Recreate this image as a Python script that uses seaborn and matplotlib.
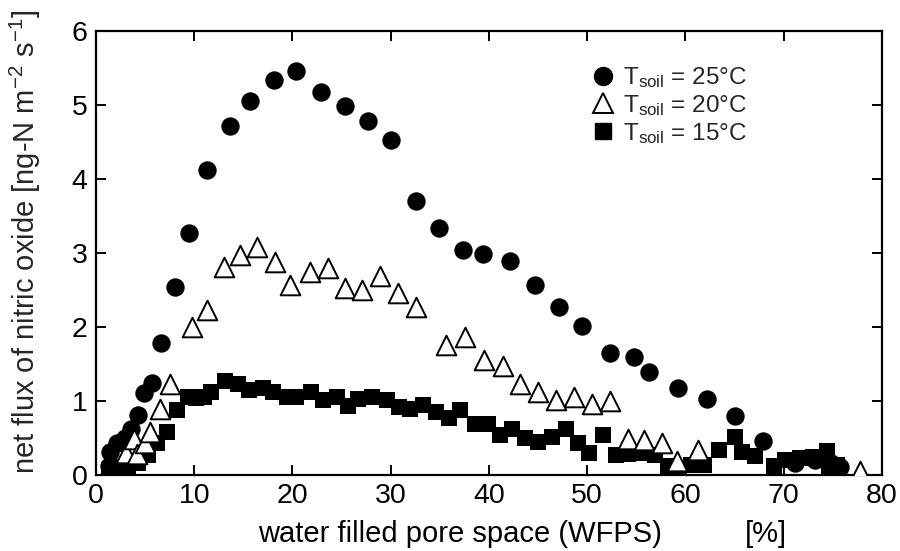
import matplotlib
matplotlib.use("Agg")
import matplotlib.pyplot as plt
import seaborn as sns
import pandas as pd
from matplotlib.lines import Line2D

# ---- data ----
x25 = [1.3, 1.4, 2.1, 2.9, 3.6, 4.3, 4.9, 5.7, 6.6, 8.0, 9.5, 11.3, 13.6, 15.7, 18.1, 20.4,
       22.9, 25.3, 27.7, 30.0, 32.6, 34.9, 37.4, 39.4, 42.2, 44.7, 47.1, 49.5, 52.3, 54.8,
       56.3, 59.3, 62.2, 65.1, 67.9, 71.2, 73.2, 74.8, 75.8]
y25 = [0.12, 0.31, 0.42, 0.50, 0.61, 0.80, 1.10, 1.24, 1.78, 2.54, 3.27, 4.12, 4.72, 5.06, 5.34, 5.46,
       5.18, 4.99, 4.78, 4.53, 3.70, 3.33, 3.04, 2.98, 2.89, 2.57, 2.26, 2.01, 1.65, 1.59,
       1.39, 1.17, 1.02, 0.79, 0.45, 0.16, 0.20, 0.15, 0.10]

x20 = [3.1, 3.9, 4.2, 5.0, 5.5, 6.5, 7.5, 9.8, 11.3, 13.0, 14.7, 16.4, 18.2, 19.8, 21.8, 23.6,
       25.4, 27.1, 28.9, 30.7, 32.6, 35.6, 37.6, 39.5, 41.4, 43.2, 45.0, 46.8, 48.7, 50.5,
       52.3, 54.2, 55.8, 57.6, 59.2, 61.3, 77.8]
y20 = [0.29, 0.48, 0.28, 0.42, 0.58, 0.88, 1.22, 1.99, 2.23, 2.81, 2.97, 3.08, 2.87, 2.56, 2.74, 2.79,
       2.52, 2.49, 2.69, 2.45, 2.27, 1.75, 1.86, 1.55, 1.47, 1.23, 1.11, 1.01, 1.05, 0.95,
       0.99, 0.48, 0.47, 0.42, 0.18, 0.33, 0.05]

x15 = [1.3, 1.9, 2.6, 3.3, 4.3, 5.3, 6.2, 7.2, 8.2, 9.4, 10.2, 11.0, 11.7, 13.1, 14.5, 15.6,
       17.0, 18.0, 19.4, 20.4, 21.9, 23.1, 24.5, 25.7, 26.7, 28.1, 29.6, 30.8, 32.0, 33.3,
       34.6, 35.9, 37.1, 38.6, 39.9, 41.1, 42.4, 43.7, 45.0, 46.4, 47.9, 49.1, 50.2, 51.6,
       52.9, 54.2, 55.6, 56.9, 58.2, 59.4, 60.6, 61.9, 63.4, 65.1, 65.8, 67.1, 69.0, 70.2,
       71.7, 73.0, 74.4, 74.6, 75.4]
y15 = [0.06, 0.09, 0.10, 0.11, 0.15, 0.26, 0.42, 0.58, 0.87, 1.05, 1.03, 1.05, 1.12, 1.27, 1.23, 1.15,
       1.17, 1.11, 1.05, 1.05, 1.12, 1.01, 1.05, 0.93, 1.02, 1.05, 1.01, 0.92, 0.88, 0.94,
       0.84, 0.76, 0.87, 0.68, 0.68, 0.53, 0.61, 0.50, 0.44, 0.51, 0.62, 0.42, 0.29, 0.54,
       0.27, 0.28, 0.29, 0.27, 0.12, 0.08, 0.13, 0.13, 0.33, 0.51, 0.30, 0.25, 0.12, 0.20,
       0.23, 0.24, 0.32, 0.08, 0.13]

labels = [r"T$_{\mathregular{soil}}$ = 25°C", r"T$_{\mathregular{soil}}$ = 20°C",
          r"T$_{\mathregular{soil}}$ = 15°C"]
x_ticks = [0, 10, 20, 30, 40, 50, 60, 70, 80]
y_ticks = [0, 1, 2, 3, 4, 5, 6]

# ---- style ----
sns.set_theme(style="ticks")
plt.rcParams['font.family'] = ['Liberation Sans', 'DejaVu Sans']
plt.rcParams['mathtext.fontset'] = 'custom'
plt.rcParams['mathtext.rm'] = 'Liberation Sans'
plt.rcParams['mathtext.it'] = 'Liberation Sans'
plt.rcParams['mathtext.bf'] = 'Liberation Sans:bold'

fig = plt.figure(figsize=(9, 5.51), dpi=100)
ax = fig.add_axes([0.1067, 0.1388, 0.8730, 0.8049])

df25 = pd.DataFrame({"x": x25, "y": y25})
df20 = pd.DataFrame({"x": x20, "y": y20})
df15 = pd.DataFrame({"x": x15, "y": y15})

sns.scatterplot(data=df25, x="x", y="y", marker="o", s=175, color="black",
                edgecolor="black", linewidth=0, ax=ax, zorder=3)
sns.scatterplot(data=df15, x="x", y="y", marker="s", s=120, color="black",
                edgecolor="black", linewidth=0, ax=ax, zorder=4)
sns.scatterplot(data=df20, x="x", y="y", marker="^", s=200, facecolor="white",
                edgecolor="black", linewidth=1.4, ax=ax, zorder=5)

ax.set_xlim(0, 80)
ax.set_ylim(0, 6)
ax.set_xticks(x_ticks)
ax.set_yticks(y_ticks)
ax.tick_params(direction="in", length=7, width=1.4, labelsize=20.5, colors="black",
               top=True, right=True, pad=6)
for sp in ax.spines.values():
    sp.set_linewidth(1.6)
    sp.set_color("black")
    sp.set_visible(True)

ax.set_xlabel("")
fig.text(459.5 / 900, 1 - 534 / 551, "water filled pore space (WFPS)", fontsize=21,
         ha="center", va="center", color="black")
fig.text(766 / 900, 1 - 534 / 551, "[%]", fontsize=21, ha="center", va="center",
         color="black")

ax.set_ylabel(r"net flux of nitric oxide [ng-N m$^{\mathregular{-2}}$ s$^{\mathregular{-1}}$]",
              fontsize=21)
ax.yaxis.set_label_coords(-0.068, 0.524)

handles = [
    Line2D([], [], marker="o", linestyle="none", markersize=13, markerfacecolor="black",
           markeredgecolor="black"),
    Line2D([], [], marker="^", linestyle="none", markersize=14, markerfacecolor="white",
           markeredgecolor="black", markeredgewidth=1.4),
    Line2D([], [], marker="s", linestyle="none", markersize=11, markerfacecolor="black",
           markeredgecolor="black"),
]
ax.legend(handles, labels, loc="upper left", bbox_to_anchor=(0.617, 0.945), frameon=False,
          fontsize=17.5, handlelength=1.0, handletextpad=0.35, labelspacing=0.12,
          borderaxespad=0)

fig.savefig("out.png", dpi=100, facecolor="white")
